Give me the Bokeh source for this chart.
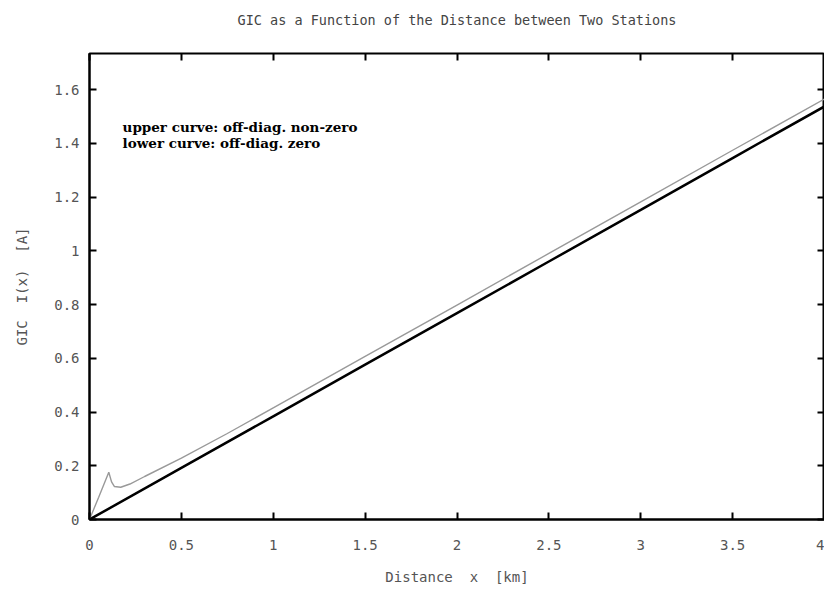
from bokeh.plotting import figure
from bokeh.models import Range1d, FixedTicker, LinearAxis, Label
from bokeh.embed import file_html
from bokeh.resources import INLINE

# ---- data ----
x_upper = [0, 0.05, 0.105, 0.12, 0.135, 0.17, 0.22, 0.3, 0.5, 0.75, 1.0, 1.5, 2.0, 2.5, 3.0, 3.5, 4.0]
y_upper = [0, 0.083, 0.176, 0.14, 0.123, 0.12, 0.132, 0.16, 0.228, 0.32, 0.415, 0.607, 0.798, 0.99, 1.182, 1.374, 1.565]
x_lower = [0, 0.5, 1.0, 1.5, 2.0, 2.5, 3.0, 3.5, 4.0]
y_lower = [0, 0.192, 0.384, 0.576, 0.768, 0.96, 1.152, 1.345, 1.537]

x_ticks = [0, 0.5, 1, 1.5, 2, 2.5, 3, 3.5, 4]
x_tick_labels = ["0", "0.5", "1", "1.5", "2", "2.5", "3", "3.5", "4"]
y_ticks = [0, 0.2, 0.4, 0.6, 0.8, 1.0, 1.2, 1.4, 1.6]
y_tick_labels = ["0", "0.2", "0.4", "0.6", "0.8", "1", "1.2", "1.4", "1.6"]

NB = "\u00a0"
title_text = "GIC as a Function of the Distance between Two Stations"
x_label = "Distance" + NB * 2 + "x" + NB * 2 + "[km]"
y_label = "GIC" + NB * 2 + "I(x)" + NB * 2 + "[A]"
note_lines = ["upper curve: off-diag. non-zero", "lower curve: off-diag. zero"]

MONO = "DejaVu Sans Mono"
GRAY = "#555555"

p = figure(width=824, height=590, output_backend="svg", toolbar_location=None,
           x_range=Range1d(0, 4), y_range=Range1d(0, 1.734),
           min_border_left=89, min_border_top=53, min_border_bottom=71, min_border_right=0)

p.grid.visible = False
p.outline_line_color = "black"
p.outline_line_width = 2
p.background_fill_color = "white"
p.border_fill_color = "white"

xticks_labels = dict(zip(x_ticks, x_tick_labels))
yticks_labels = dict(zip(y_ticks, y_tick_labels))

for ax, ticks, labels in ((p.xaxis[0], x_ticks, xticks_labels), (p.yaxis[0], y_ticks, yticks_labels)):
    ax.ticker = FixedTicker(ticks=ticks)
    ax.major_label_overrides = {float(k): v for k, v in labels.items()}
    ax.major_tick_in = 7
    ax.major_tick_out = 0
    ax.minor_tick_line_color = None
    ax.major_tick_line_color = "black"
    ax.major_tick_line_width = 2
    ax.axis_line_color = "black"
    ax.axis_line_width = 2
    ax.major_label_text_font = MONO
    ax.major_label_text_font_size = "14px"
    ax.major_label_text_color = GRAY
    ax.axis_label_text_font = MONO
    ax.axis_label_text_font_size = "14px"
    ax.axis_label_text_font_style = "normal"
    ax.axis_label_text_color = GRAY

p.xaxis[0].axis_label = x_label
p.xaxis[0].major_label_standoff = 20
p.xaxis[0].axis_label_standoff = 16
p.yaxis[0].axis_label = y_label
p.yaxis[0].major_label_standoff = 10
p.yaxis[0].axis_label_standoff = 21

# mirrored ticks on top (carrying the chart title) and right, gnuplot style
top = LinearAxis(ticker=FixedTicker(ticks=x_ticks), major_tick_in=7, major_tick_out=0,
                 major_tick_line_width=2, minor_tick_line_color=None, axis_line_color=None,
                 major_label_overrides={float(t): "" for t in x_ticks}, major_label_standoff=0,
                 axis_label=title_text, axis_label_standoff=26,
                 axis_label_text_font=MONO, axis_label_text_font_size="13.5px",
                 axis_label_text_font_style="normal", axis_label_text_color="#444444")
right = LinearAxis(ticker=FixedTicker(ticks=y_ticks), major_tick_in=7, major_tick_out=0,
                   major_tick_line_width=2, minor_tick_line_color=None, axis_line_color=None,
                   major_label_overrides={float(t): "" for t in y_ticks}, major_label_standoff=0)
p.add_layout(top, "above")
p.add_layout(right, "right")

p.line(x_lower, y_lower, line_color="black", line_width=2.5)
p.line(x_upper, y_upper, line_color="#999999", line_width=1.4)

for i, txt in enumerate(note_lines):
    p.add_layout(Label(x=0.18, y=1.462 - i * 0.06, text=txt,
                       text_font="DejaVu Serif", text_font_style="bold",
                       text_font_size="13.5px", text_color="black",
                       text_baseline="alphabetic"))

open("out.html", "w").write(file_html(p, INLINE))
